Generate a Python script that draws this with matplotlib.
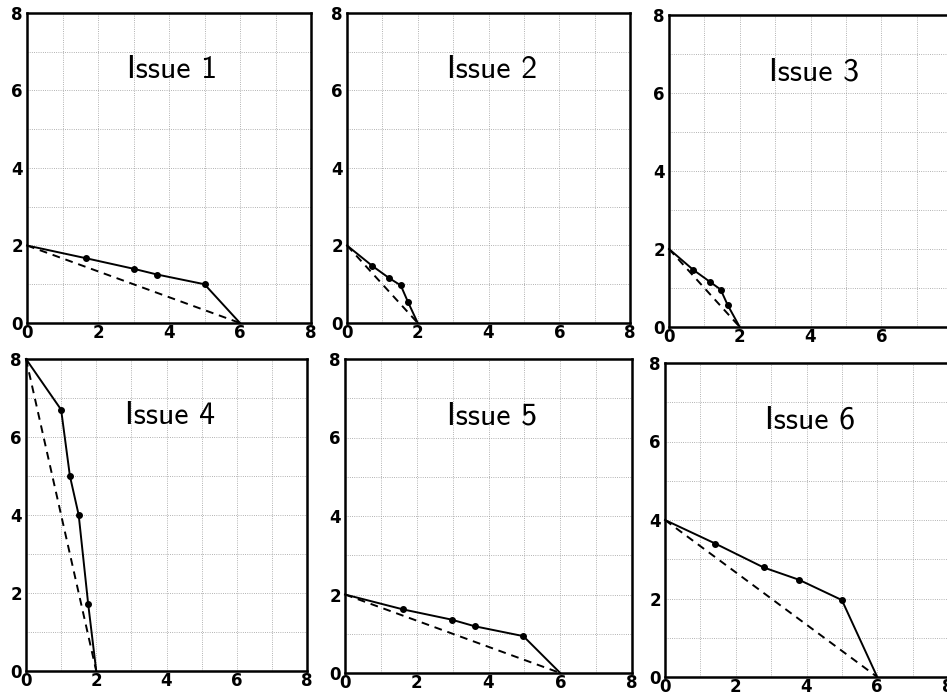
import os
import matplotlib
import matplotlib.pyplot as plt
from matplotlib.font_manager import FontProperties
from matplotlib.ticker import MultipleLocator

# Computer Modern sans shipped with matplotlib for the panel titles
cmss = FontProperties(fname=os.path.join(matplotlib.get_data_path(),
                                         'fonts', 'ttf', 'cmss10.ttf'), size=23)

# Data for the six panels (solid curve + dashed straight reference)
titles = ['Issue 1', 'Issue 2', 'Issue 3', 'Issue 4', 'Issue 5', 'Issue 6']

issue1_x = [0, 1.67, 3.0, 3.67, 5.0, 6.0]
issue1_y = [2, 1.67, 1.4, 1.25, 1.0, 0]
issue2_x = [0, 0.72, 1.19, 1.52, 1.73, 2.0]
issue2_y = [2, 1.47, 1.16, 0.97, 0.53, 0]
issue3_x = [0, 0.68, 1.17, 1.46, 1.66, 2.0]
issue3_y = [2, 1.47, 1.15, 0.96, 0.56, 0]
issue4_x = [0, 1.0, 1.25, 1.5, 1.77, 2.0]
issue4_y = [8, 6.7, 5.0, 4.0, 1.72, 0]
issue5_x = [0, 1.62, 2.97, 3.62, 4.97, 6.0]
issue5_y = [2, 1.62, 1.36, 1.19, 0.94, 0]
issue6_x = [0, 1.42, 2.79, 3.78, 5.0, 6.0]
issue6_y = [4, 3.4, 2.79, 2.48, 1.96, 0]

dash_x = [[0, 6], [0, 2], [0, 2], [0, 2], [0, 6], [0, 6]]
dash_y = [[2, 0], [2, 0], [2, 0], [8, 0], [2, 0], [4, 0]]

solid_x = [issue1_x, issue2_x, issue3_x, issue4_x, issue5_x, issue6_x]
solid_y = [issue1_y, issue2_y, issue3_y, issue4_y, issue5_y, issue6_y]

W, H = 947, 697
fig = plt.figure(figsize=(W / 100, H / 100), dpi=100)

# panel boxes in pixels: left, right, top, bottom
boxes = [(27, 311, 13, 323), (347, 630, 13, 323), (669, 952, 15, 327),
         (26, 307, 359, 671), (345, 632, 359, 673), (665, 948, 363, 677)]

for i, (l, r, t, b) in enumerate(boxes):
    ax = fig.add_axes([l / W, 1 - b / H, (r - l) / W, (b - t) / H])
    ax.set_xlim(0, 8)
    ax.set_ylim(0, 8)
    ax.xaxis.set_major_locator(MultipleLocator(2))
    ax.yaxis.set_major_locator(MultipleLocator(2))
    ax.xaxis.set_minor_locator(MultipleLocator(1))
    ax.yaxis.set_minor_locator(MultipleLocator(1))
    ax.grid(True, which='both', color='0.6', linestyle=':', linewidth=0.6)
    ax.tick_params(which='both', length=0)
    ax.tick_params(labelsize=12)
    ax.tick_params(axis='x', pad=1)
    ax.tick_params(axis='y', pad=3)
    for lab in ax.get_xticklabels() + ax.get_yticklabels():
        lab.set_fontweight('bold')
    for sp in ax.spines.values():
        sp.set_linewidth(1.8)

    n = len(solid_x[i])
    ax.plot(dash_x[i], dash_y[i], color='black', linestyle='--',
            linewidth=1.4, dashes=(4, 3), clip_on=False)
    ax.plot(solid_x[i], solid_y[i], color='black', linewidth=1.4,
            marker='o', markersize=4, markevery=list(range(1, n - 1)),
            clip_on=False)

    ax.text(4.1, 6.55, titles[i], fontproperties=cmss,
            ha='center', va='center')

plt.savefig('out.png', dpi=100)
